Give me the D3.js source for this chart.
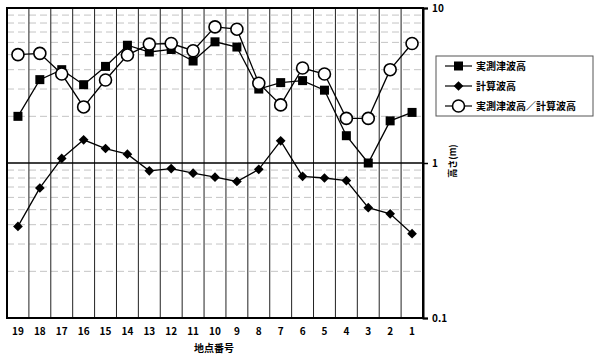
<!DOCTYPE html>
<html>
<head>
<meta charset="utf-8">
<script src="https://cdn.jsdelivr.net/npm/d3@7"></script>
<style>
  body { margin: 0; background: #fff; }
  text { font-family: "Noto Sans CJK JP", "DejaVu Sans", sans-serif; font-weight: bold; }
</style>
</head>
<body>
<svg id="chart" width="600" height="363"></svg>
<script>
const points = ["19","18","17","16","15","14","13","12","11","10","9","8","7","6","5","4","3","2","1"];

const observed = [2.0, 3.45, 4.0, 3.2, 4.2, 5.75, 5.2, 5.4, 4.55, 6.05, 5.6, 3.0, 3.3, 3.4, 2.95, 1.5, 1.0, 1.87, 2.12];
const computed = [0.39, 0.69, 1.07, 1.41, 1.24, 1.14, 0.89, 0.92, 0.86, 0.81, 0.76, 0.91, 1.39, 0.82, 0.8, 0.77, 0.515, 0.47, 0.35];
const ratio    = [5.0, 5.1, 3.75, 2.3, 3.43, 4.97, 5.85, 5.9, 5.3, 7.55, 7.3, 3.27, 2.37, 4.1, 3.75, 1.94, 1.94, 4.0, 5.9];

const yTicks = [0.1, 1, 10];
const legendLabels = ["実測津波高", "計算波高", "実測津波高／計算波高"];

const svg = d3.select("#chart");
const plotLeft = 7, plotRight = 423, plotTop = 8, plotBottom = 318;

const x = d3.scaleBand().domain(points).range([plotLeft, plotRight]);
const y = d3.scaleLog().domain([0.1, 10]).range([plotBottom, plotTop]);

// minor log grid (faint dashes)
const minor = [];
[0.1, 1].forEach(d => { for (let k = 2; k <= 9; k++) minor.push(d * k); });
svg.append("g").selectAll("line")
  .data(minor)
  .enter().append("line")
  .attr("x1", plotLeft).attr("x2", plotRight)
  .attr("y1", d => y(d)).attr("y2", d => y(d))
  .attr("stroke", "#b5b5b5")
  .attr("stroke-width", 0.8)
  .attr("stroke-dasharray", "7,4");

// vertical grid at band boundaries
svg.append("g").selectAll("line")
  .data(points.slice(1))
  .enter().append("line")
  .attr("x1", d => x(d)).attr("x2", d => x(d))
  .attr("y1", plotTop).attr("y2", plotBottom)
  .attr("stroke", "#222")
  .attr("stroke-width", 1);

// line at 1
svg.append("line")
  .attr("x1", plotLeft).attr("x2", plotRight)
  .attr("y1", y(1)).attr("y2", y(1))
  .attr("stroke", "#000").attr("stroke-width", 1.5);

// frame
svg.append("rect")
  .attr("x", plotLeft).attr("y", plotTop)
  .attr("width", plotRight - plotLeft).attr("height", plotBottom - plotTop)
  .attr("fill", "none").attr("stroke", "#000").attr("stroke-width", 2);

// right axis
const yAxis = svg.append("g")
  .attr("transform", `translate(${plotRight},0)`)
  .call(d3.axisRight(y).tickValues(yTicks).tickSize(5).tickPadding(4)
    .tickFormat(d => d >= 1 ? d3.format("d")(d) : d));
yAxis.select(".domain").attr("stroke-width", 2);
yAxis.selectAll("line").attr("stroke-width", 1.5);
yAxis.selectAll("text").attr("font-size", 10).attr("font-weight", "bold");

// x labels
const xAxis = svg.append("g")
  .attr("transform", `translate(0,${plotBottom})`)
  .call(d3.axisBottom(x).tickSize(0).tickPadding(10));
xAxis.select(".domain").remove();
xAxis.selectAll("text").attr("font-size", 10).attr("font-weight", "bold");

svg.append("text")
  .attr("x", 214).attr("y", 352)
  .attr("text-anchor", "middle")
  .attr("font-size", 10)
  .text("地点番号");

svg.append("text")
  .attr("transform", `translate(456,${y(1) - 2}) rotate(-90)`)
  .attr("text-anchor", "middle")
  .attr("font-size", 9)
  .text("高さ(m)");

// series
const line = d3.line()
  .x((d, i) => x(points[i]) + x.bandwidth() / 2)
  .y(d => y(d));

function addMarker(g, marker, cx, cy) {
  if (marker === "square") {
    g.append("rect").attr("x", cx - 4.5).attr("y", cy - 4.5)
      .attr("width", 9).attr("height", 9).attr("fill", "#000");
  } else if (marker === "diamond") {
    g.append("path").attr("d", d3.symbol(d3.symbolDiamond2, 60)())
      .attr("transform", `translate(${cx},${cy})`).attr("fill", "#000");
  } else {
    g.append("circle").attr("cx", cx).attr("cy", cy).attr("r", 6)
      .attr("fill", "#fff").attr("stroke", "#000").attr("stroke-width", 1.6);
  }
}

function drawSeries(values, marker) {
  svg.append("path")
    .datum(values)
    .attr("fill", "none")
    .attr("stroke", "#000")
    .attr("stroke-width", 1.3)
    .attr("d", line);
  const g = svg.append("g");
  values.forEach((v, i) => {
    const cx = x(points[i]) + x.bandwidth() / 2;
    addMarker(g, marker, cx, y(v));
  });
}

drawSeries(observed, "square");
drawSeries(computed, "diamond");
drawSeries(ratio, "circle");

// legend
const legend = svg.append("g");
legend.append("rect")
  .attr("x", 436).attr("y", 56).attr("width", 157).attr("height", 60)
  .attr("fill", "#fff").attr("stroke", "#555").attr("stroke-width", 1);
["square", "diamond", "circle"].forEach((m, i) => {
  const ly = 66 + i * 20;
  legend.append("line").attr("x1", 445).attr("x2", 472)
    .attr("y1", ly).attr("y2", ly).attr("stroke", "#000").attr("stroke-width", 1.2);
  addMarker(legend, m, 458.5, ly);
  legend.append("text").attr("x", 476).attr("y", ly + 4)
    .attr("font-size", 10).text(legendLabels[i]);
});
</script>
</body>
</html>
